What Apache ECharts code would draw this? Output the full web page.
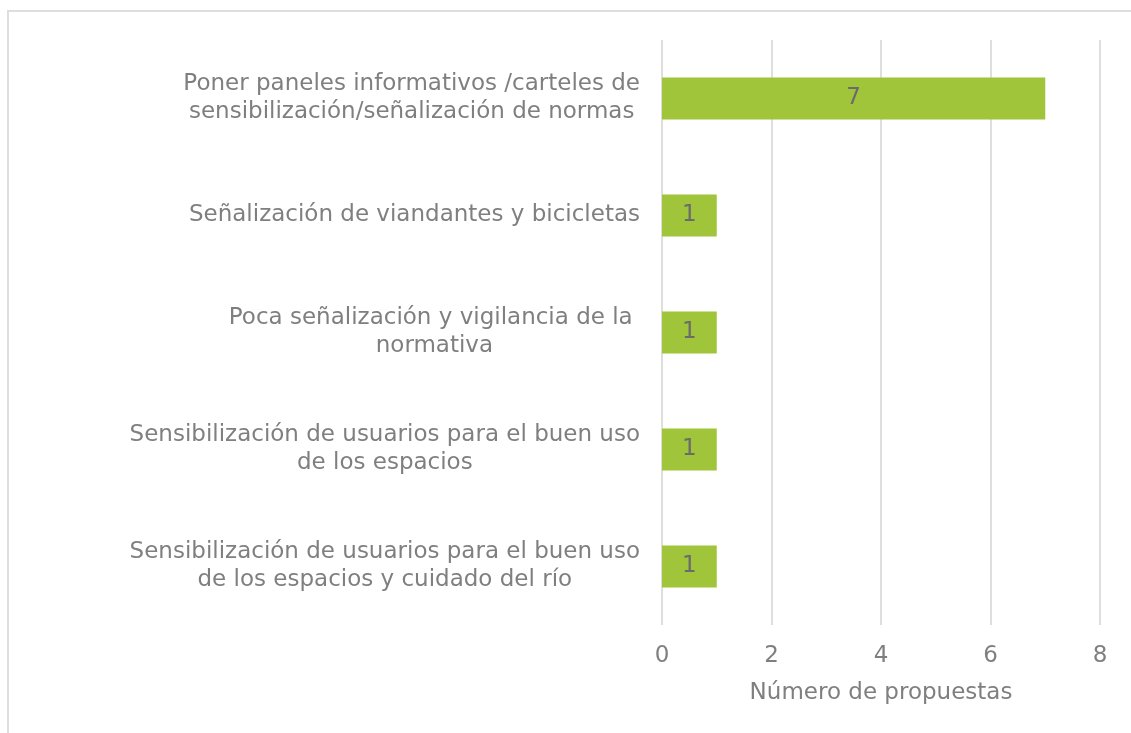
<!DOCTYPE html>
<html>
<head>
<meta charset="utf-8">
<title>Número de propuestas</title>
<script src="https://cdn.jsdelivr.net/npm/echarts@6/dist/echarts.min.js"></script>
<style>
  html, body { margin: 0; padding: 0; background: #fff; }
  #frame {
    position: absolute; left: 7px; top: 10px; width: 1200px; height: 800px;
    border-top: 2px solid #dedede; border-left: 2px solid #dedede;
  }
  #myChart { position: absolute; left: 0; top: 0; width: 1131px; height: 733px; }
</style>
</head>
<body>
<div id="frame"></div>
<div id="myChart"></div>
<script>
  // categories, top to bottom
  var categorias = [
    'Poner paneles informativos /carteles de\nsensibilización/señalización de normas',
    'Señalización de viandantes y bicicletas',
    'Poca señalización y vigilancia de la \nnormativa',
    'Sensibilización de usuarios para el buen uso\nde los espacios',
    'Sensibilización de usuarios para el buen uso\nde los espacios y cuidado del río'
  ];
  var propuestas = [7, 1, 1, 1, 1];
  var ticksX = [0, 2, 4, 6, 8];

  var fuente = 'DejaVu Sans';
  var gris = '#7f7f7f';

  var myChart = echarts.init(document.getElementById('myChart'));
  myChart.setOption({
    animation: false,
    grid: {
      left: 662,
      right: 31,
      top: 40,
      bottom: 108
    },
    xAxis: {
      type: 'value',
      min: ticksX[0],
      max: ticksX[ticksX.length - 1],
      interval: ticksX[1] - ticksX[0],
      name: 'Número de propuestas',
      nameLocation: 'middle',
      nameGap: 57,
      nameTextStyle: { color: gris, fontSize: 23, fontFamily: fuente },
      axisLine: { show: false },
      axisTick: { show: false },
      axisLabel: { color: gris, fontSize: 23, fontFamily: fuente, margin: 20 },
      splitLine: { lineStyle: { color: '#dedede', width: 2 } }
    },
    yAxis: {
      type: 'category',
      inverse: true,
      data: categorias,
      axisLine: { show: false },
      axisTick: { show: false },
      axisLabel: {
        margin: 22,
        // each line centred inside the block, block right-aligned to the axis
        formatter: function (v) {
          return v.split('\n').map(function (l) { return '{c|' + l + '}'; }).join('\n');
        },
        rich: {
          c: { align: 'center', color: gris, fontSize: 23, fontFamily: fuente, lineHeight: 28 }
        }
      }
    },
    series: [{
      type: 'bar',
      data: propuestas,
      barWidth: 42,
      itemStyle: { color: '#a0c53b' },
      label: {
        show: true,
        position: 'inside',
        color: '#6b6b6b',
        fontSize: 23,
        fontFamily: fuente
      }
    }]
  });
</script>
</body>
</html>
